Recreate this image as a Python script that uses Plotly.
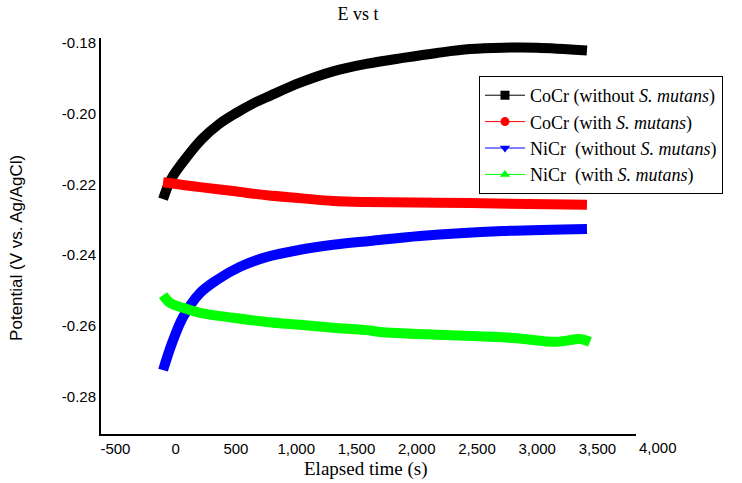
import plotly.graph_objects as go

# ---- data ----
t_cocr_wo = [-105, -39, 85, 218, 359, 500, 641, 782, 1032, 1306, 1580, 1887, 2169, 2442, 2716, 2998, 3413]
e_cocr_wo = [-0.2242, -0.2186, -0.2126, -0.2072, -0.2030, -0.1999, -0.1972, -0.1950, -0.1913,
             -0.1881, -0.1860, -0.1843, -0.1829, -0.1818, -0.1814, -0.1814, -0.1822]

t_cocr_w = [-105, 202, 476, 758, 1032, 1306, 1587, 2442, 3413]
e_cocr_w = [-0.2194, -0.2208, -0.2219, -0.2231, -0.2239, -0.2247, -0.2250, -0.2253, -0.2258]

t_nicr_wo = [-105, -30, 61, 202, 343, 534, 758, 1032, 1306, 1613, 2027, 2716, 3413]
e_nicr_wo = [-0.2725, -0.2648, -0.2575, -0.2507, -0.2470, -0.2433, -0.2405, -0.2385, -0.2371,
             -0.2360, -0.2346, -0.2332, -0.2326]

t_nicr_w = [-105, -47, 61, 202, 476, 758, 1032, 1306, 1587, 1695, 2251, 2799, 3164, 3355, 3438]
e_nicr_w = [-0.2513, -0.2535, -0.2549, -0.2563, -0.2577, -0.2589, -0.2597, -0.2605, -0.2612,
            -0.2617, -0.2626, -0.2634, -0.2645, -0.2637, -0.2645]

names = ["CoCr (without <i>S.</i> <i>mutans</i>)",
         "CoCr (with <i>S.</i> <i>mutans</i>)",
         "NiCr\u00a0 (without <i>S.</i> <i>mutans</i>)",
         "NiCr\u00a0 (with <i>S.</i> <i>mutans</i>)"]
colors = ["#000000", "#ff0000", "#0000ff", "#00ff00"]
symbols = ["square", "circle", "triangle-down", "triangle-up"]

x_tickvals = [-500, 0, 500, 1000, 1500, 2000, 2500, 3000, 3500]
x_ticktext = ["-500", "0", "500", "1,000", "1,500", "2,000", "2,500", "3,000", "3,500"]
x_extra_tick = 4000
x_extra_text = "4,000"
y_tickvals = [-0.28, -0.26, -0.24, -0.22, -0.20, -0.18]
y_ticktext = ["-0.28", "-0.26", "-0.24", "-0.22", "-0.20", "-0.18"]

x_range = [-620, 3820]
y_range = [-0.29054, -0.17867]

series = [(t_cocr_wo, e_cocr_wo), (t_cocr_w, e_cocr_w), (t_nicr_wo, e_nicr_wo), (t_nicr_w, e_nicr_w)]

fig = go.Figure()
for (tx, ey), c in zip(series, colors):
    fig.add_trace(go.Scatter(x=tx, y=ey, mode="lines", line=dict(color=c, width=10, shape="spline"),
                             showlegend=False, hoverinfo="skip"))
for n, c, s in zip(names, colors, symbols):
    fig.add_trace(go.Scatter(x=[None], y=[None], mode="lines+markers", name=n,
                             line=dict(color=c, width=1), marker=dict(color=c, symbol=s, size=9)))

sans = "Liberation Sans, Arial, sans-serif"
serif = "Liberation Serif, Times New Roman, serif"

fig.update_layout(
    width=742, height=483,
    margin=dict(l=101, r=106, t=38, b=49),
    paper_bgcolor="white", plot_bgcolor="white",
    title=dict(text="E vs t", x=358/742, xref="container", xanchor="center",
               y=1 - 14/483, yref="container", yanchor="middle",
               font=dict(family=serif, size=18, color="black")),
    xaxis=dict(range=x_range, tickvals=x_tickvals, ticktext=x_ticktext, automargin=False,
               showgrid=False, zeroline=False, showline=True, linecolor="black", linewidth=2,
               ticks="", tickfont=dict(family=sans, size=15, color="black")),
    yaxis=dict(range=y_range, tickvals=y_tickvals, ticktext=y_ticktext, automargin=False,
               showgrid=False, zeroline=False, showline=True, linecolor="black", linewidth=2,
               ticks="", tickfont=dict(family=sans, size=15, color="black")),
    legend=dict(x=0.7065, y=0.904, xanchor="left", yanchor="top",
                bgcolor="white", bordercolor="black", borderwidth=1,
                font=dict(family=serif, size=18, color="black"),
                itemwidth=40, tracegroupgap=0),
)
fig.add_annotation(x=(x_extra_tick - x_range[0]) / (x_range[1] - x_range[0]), y=0,
                   xref="paper", yref="paper", text=x_extra_text, showarrow=False,
                   xanchor="center", yanchor="top", yshift=-3,
                   font=dict(family=sans, size=15, color="black"))
fig.add_annotation(x=-0.157, y=0.47, xref="paper", yref="paper", text="Potential (V vs. Ag/AgCl)",
                   textangle=-90, showarrow=False, xanchor="center", yanchor="middle",
                   font=dict(family=sans, size=17, color="black"))
fig.add_annotation(x=0.495, y=-0.0884, xref="paper", yref="paper", text="Elapsed time (s)",
                   showarrow=False, xanchor="center", yanchor="middle",
                   font=dict(family=serif, size=19, color="black"))

# remove the browser's default 8px body margin so the figure fills the window exactly
fig.write_html("out.html", config={"displayModeBar": False},
               post_script="document.body.style.margin='0';")
